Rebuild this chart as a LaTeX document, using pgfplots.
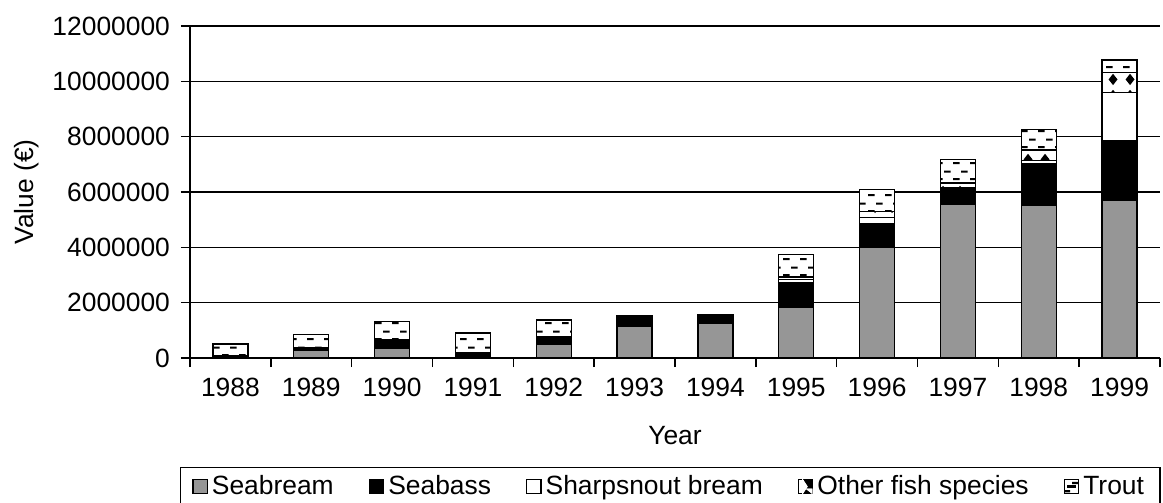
\documentclass[border=0pt]{standalone}
\usepackage{fontspec}
\setmainfont{Liberation Sans}
\usepackage{pgfplots}
\pgfplotsset{compat=1.18}
\usetikzlibrary{patterns}
\pgfdeclarepatternformonly{troutdash}{\pgfpointorigin}{\pgfpoint{8.5pt}{8pt}}{\pgfpoint{8.5pt}{8pt}}{%
  \pgfpathrectangle{\pgfpoint{0.6pt}{1.5pt}}{\pgfpoint{3.4pt}{1.1pt}}%
  \pgfpathrectangle{\pgfpoint{4.85pt}{5.5pt}}{\pgfpoint{3.4pt}{1.1pt}}%
  \pgfusepath{fill}}
\pgfdeclarepatternformonly{otherdiamond}{\pgfpointorigin}{\pgfpoint{8.5pt}{8pt}}{\pgfpoint{8.5pt}{8pt}}{%
  \pgfpathmoveto{\pgfpoint{4.25pt}{1pt}}%
  \pgfpathlineto{\pgfpoint{6.6pt}{4pt}}%
  \pgfpathlineto{\pgfpoint{4.25pt}{7pt}}%
  \pgfpathlineto{\pgfpoint{1.9pt}{4pt}}%
  \pgfpathclose
  \pgfusepath{fill}}
\definecolor{seabream}{RGB}{150,150,150}
\pgfplotstableread{
x seabream seabass sharp other trout
0  20000   50000   0      0      430000
1  270000  120000  0      0      470000
2  350000  310000  0      0      660000
3  50000   150000  0      0      710000
4  510000  270000  0      0      600000
5  1130000 390000  0      0      0
6  1270000 305000  0      0      0
7  1850000 880000  100000 100000 820000
8  4000000 870000  210000 220000 780000
9  5570000 550000  50000  150000 860000
10 5510000 1510000 120000 380000 730000
11 5700000 2160000 1740000 720000 450000
}\datatable
\begin{document}
\begin{tikzpicture}
\useasboundingbox (-95pt,-72.5pt) rectangle (486.5pt,179pt);
\begin{axis}[
  at={(0pt,0pt)}, anchor=south west,
  scale only axis, width=485pt, height=166pt,
  ybar stacked, bar width=17.5pt,
  xmin=-0.5, xmax=11.5, ymin=0, ymax=12000000,
  axis x line=bottom, axis y line=left,
  axis line style={-, line width=0.8pt, black},
  xtick={0,...,11},
  xticklabels={1988,1989,1990,1991,1992,1993,1994,1995,1996,1997,1998,1999},
  minor xtick={-0.5,0.5,...,11.5},
  major x tick style={draw=none},
  minor x tick style={line width=0.8pt, black},
  tick align=outside, minor tick length=4.5pt, major tick length=4.5pt,
  ytick={0,2000000,...,12000000},
  y tick style={line width=0.8pt, black},
  scaled y ticks=false,
  yticklabel style={/pgf/number format/fixed, /pgf/number format/1000 sep={}, /pgf/number format/assume math mode=true, xshift=-2pt},
  xticklabel style={yshift=-2pt},
  ymajorgrids, grid style={line width=0.8pt, black},
  tick label style={font=\fontsize{13.2}{15}\selectfont},
  label style={font=\fontsize{13.2}{15}\selectfont},
  xlabel={Year}, ylabel={Value (€)},
  xlabel style={yshift=-8pt},
  ylabel style={yshift=0pt},
  legend columns=5,
  legend style={at={(0.495,-0.328)}, anchor=north, draw=black, line width=0.6pt,
    font=\fontsize{13.2}{15}\selectfont, inner xsep=6pt, inner ysep=2pt,
    /tikz/every even column/.append style={column sep=15.5pt}},
  legend cell align=left,
  legend image code/.code={\draw[#1, line width=0.6pt] (0pt,-3.6pt) rectangle (7.2pt,3.6pt);},
  every axis plot/.append style={draw=black, line width=0.7pt},
  clip=false,
]
\addplot[fill=seabream] table[x=x,y=seabream] {\datatable};
\addplot[fill=black] table[x=x,y=seabass] {\datatable};
\addplot[fill=white] table[x=x,y=sharp] {\datatable};
\addplot[fill=white, postaction={pattern=otherdiamond},
  legend image code/.code={\draw[draw=black, fill=black, line width=0.6pt] (0pt,-3.6pt) rectangle (7.2pt,3.6pt);
    \fill[white] (0.6pt,-3pt) rectangle (2.2pt,3pt);
    \fill[white] (2.2pt,-3pt) -- (4.2pt,0pt) -- (2.2pt,3pt) -- cycle;
    \fill[white] (6.6pt,-3pt) -- (4.6pt,-1.4pt) -- (6.6pt,-1.4pt) -- cycle;}]
  table[x=x,y=other] {\datatable};
\addplot[fill=white, postaction={pattern=troutdash},
  legend image code/.code={\draw[draw=black, fill=white, line width=0.6pt] (0pt,-3.6pt) rectangle (7.2pt,3.6pt);
    \fill[black] (1.6pt,-0.5pt) rectangle (5.6pt,0.5pt);}]
  table[x=x,y=trout] {\datatable};
\legend{Seabream,Seabass,Sharpsnout bream,Other fish species,Trout}
\end{axis}
\end{tikzpicture}
\end{document}
